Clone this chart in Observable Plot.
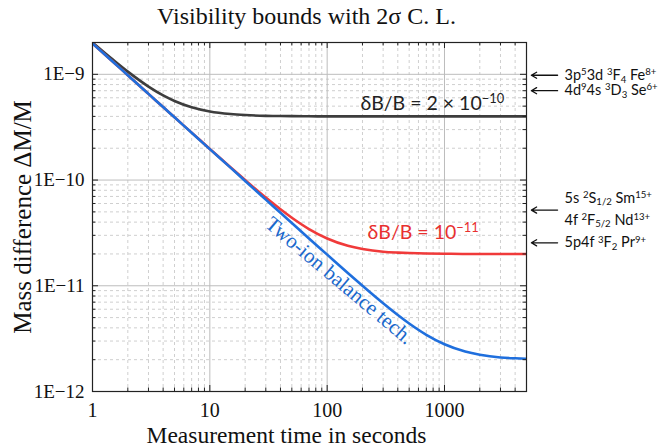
<!DOCTYPE html>
<html>
<head>
<meta charset="utf-8">
<script src="https://cdn.jsdelivr.net/npm/d3@7"></script>
<script src="https://cdn.jsdelivr.net/npm/@observablehq/plot@0.6"></script>
<style>
  html, body { margin: 0; padding: 0; background: #fff; }
</style>
</head>
<body>
<div id="chart"></div>
<script>
// ---- data ----
const times = [1, 1.5, 2, 3, 4, 5, 7, 10, 15, 20, 30, 40, 50, 70, 100, 150, 200, 300, 400, 500, 700, 1000, 1500, 2000, 3000, 4000, 5000];
const twoIonBalance = [1.96e-9, 1.31e-9, 9.8e-10, 6.53e-10, 4.9e-10, 3.92e-10, 2.8e-10, 1.96e-10, 1.31e-10, 9.8e-11, 6.53e-11, 4.9e-11, 3.92e-11, 2.8e-11, 1.97e-11, 1.32e-11, 1.0e-11, 6.83e-12, 5.29e-12, 4.4e-12, 3.44e-12, 2.8e-12, 2.39e-12, 2.23e-12, 2.1e-12, 2.06e-12, 2.04e-12];
const fieldStab1e11 = [1.96e-9, 1.31e-9, 9.8e-10, 6.53e-10, 4.9e-10, 3.92e-10, 2.81e-10, 1.97e-10, 1.32e-10, 1.0e-10, 6.83e-11, 5.29e-11, 4.4e-11, 3.44e-11, 2.8e-11, 2.39e-11, 2.23e-11, 2.1e-11, 2.06e-11, 2.04e-11, 2.02e-11, 2.01e-11, 2.0e-11, 2.0e-11, 2.0e-11, 2.0e-11, 2.0e-11];
const fieldStab2e10 = [2.0e-9, 1.37e-9, 1.06e-9, 7.66e-10, 6.32e-10, 5.6e-10, 4.88e-10, 4.45e-10, 4.21e-10, 4.12e-10, 4.05e-10, 4.03e-10, 4.02e-10, 4.01e-10, 4.0e-10, 4.0e-10, 4.0e-10, 4.0e-10, 4.0e-10, 4.0e-10, 4.0e-10, 4.0e-10, 4.0e-10, 4.0e-10, 4.0e-10, 4.0e-10, 4.0e-10];

const xTickValues = [1, 10, 100, 1000];
const xTickLabels = ["1", "10", "100", "1000"];
const yTickValues = [1e-12, 1e-11, 1e-10, 1e-9];
const yTickLabels = ["1E\u221212", "1E\u221211", "1E\u221210", "1E\u22129"];

const ionLevels = [9.8e-10, 7.0e-10, 5.2e-11, 2.55e-11];
const ionLabels = ["3p^{5}3d ^{3}F_{4} Fe^{8+}", "4d^{9}4s ^{3}D_{3} Se^{6+}", "5s ^{2}S_{1/2} Sm^{15+}", "4f ^{2}F_{5/2} Nd^{13+}", "5p4f ^{3}F_{2} Pr^{9+}"];
const ionLabelLevel = [9.8e-10, 7.0e-10, 5.2e-11, 5.2e-11, 2.55e-11];

const title = "Visibility bounds with 2\u03c3 C. L.";
const xLabel = "Measurement time in seconds";
const yLabel = "Mass difference \u0394M/M";
const blackLabel = "\u03b4B/B = 2 \u00d7 10^{\u221210}";
const redLabel = "\u03b4B/B = 10^{\u221211}";
const blueLabel = "Two-ion balance tech.";

// ---- layout ----
const W = 667, H = 447;
const mL = 92, mR = 141, mT = 42, mB = 56;
const frameW = W - mL - mR, frameH = H - mT - mB;
const xMax = 5000, yMin = 1e-12, yMax = 2e-9;

const xMinor = [];
for (const dec of [1, 10, 100, 1000]) for (let k = 2; k <= 9; k++) if (k * dec <= xMax) xMinor.push(k * dec);
const yMinor = [];
for (const dec of [1e-12, 1e-11, 1e-10, 1e-9]) for (let k = 2; k <= 9; k++) if (k * dec <= yMax * 1.0001) yMinor.push(k * dec);

const rows = times.map((t, i) => ({t, blue: twoIonBalance[i], red: fieldStab1e11[i], black: fieldStab2e10[i]}));

const serif = "'Liberation Serif', 'DejaVu Serif', serif";
const sans = "Lato, 'Open Sans', 'Noto Sans', sans-serif";
const BLUE = "#1f6fdd", RED = "#f03a3a", DARK = "#3d3d3d";
const majLen = 6, minLen = 3.5;

const chart = Plot.plot({
  width: W, height: H,
  marginLeft: mL, marginRight: mR, marginTop: mT, marginBottom: mB,
  style: {background: "#fff", overflow: "visible"},
  x: {type: "log", domain: [1, xMax], axis: null},
  y: {type: "log", domain: [yMin, yMax], axis: null},
  marks: [
    // minor grid
    Plot.ruleX(xMinor, {x: d => d, stroke: "#cfcfcf", strokeDasharray: "3,3"}),
    Plot.ruleY(yMinor, {y: d => d, stroke: "#cfcfcf", strokeDasharray: "3,3"}),
    // major grid
    Plot.ruleX(xTickValues, {x: d => d, stroke: "#bdbdbd"}),
    Plot.ruleY(yTickValues, {y: d => d, stroke: "#bdbdbd"}),
    // curves
    Plot.line(rows, {x: "t", y: "black", stroke: DARK, strokeWidth: 2.6, curve: "monotone-x", clip: true}),
    Plot.line(rows, {x: "t", y: "red", stroke: RED, strokeWidth: 2.6, curve: "monotone-x", clip: true}),
    Plot.line(rows, {x: "t", y: "blue", stroke: BLUE, strokeWidth: 2.6, curve: "monotone-x", clip: true}),
    // ticks (inside, all four sides)
    Plot.ruleX(xTickValues, {x: d => d, insetTop: frameH - majLen, stroke: "#222"}),
    Plot.ruleX(xTickValues, {x: d => d, insetBottom: frameH - majLen, stroke: "#222"}),
    Plot.ruleX(xMinor, {x: d => d, insetTop: frameH - minLen, stroke: "#222"}),
    Plot.ruleX(xMinor, {x: d => d, insetBottom: frameH - minLen, stroke: "#222"}),
    Plot.ruleY(yTickValues, {y: d => d, insetRight: frameW - majLen, stroke: "#222"}),
    Plot.ruleY(yTickValues, {y: d => d, insetLeft: frameW - majLen, stroke: "#222"}),
    Plot.ruleY(yMinor, {y: d => d, insetRight: frameW - minLen, stroke: "#222"}),
    Plot.ruleY(yMinor, {y: d => d, insetLeft: frameW - minLen, stroke: "#222"}),
    Plot.frame({stroke: "#222", strokeWidth: 1.2}),
    // tick labels
    Plot.text(xTickValues, {x: d => d, text: (d, i) => xTickLabels[i], frameAnchor: "bottom", lineAnchor: "middle", dy: 19, fontSize: 20, fontFamily: serif, fill: "#111"}),
    Plot.text(yTickValues, {y: d => d, text: (d, i) => yTickLabels[i], frameAnchor: "left", lineAnchor: "middle", dx: -8, textAnchor: "end", fontSize: 19, fontFamily: serif, fill: "#111"}),
    // axis titles and title
    Plot.text([xLabel], {text: d => d, frameAnchor: "bottom", lineAnchor: "middle", textAnchor: "middle", dx: -23, dy: 44, fontSize: 23.5, fontFamily: serif, fill: "#111"}),
    Plot.text([yLabel], {text: d => d, frameAnchor: "left", lineAnchor: "middle", textAnchor: "middle", dx: -70, rotate: -90, fontSize: 25, fontFamily: serif, fill: "#111"}),
    Plot.text([title], {text: d => d, frameAnchor: "top", lineAnchor: "middle", textAnchor: "middle", dx: -3, dy: -26, fontSize: 24, fontFamily: serif, fill: "#111"}),
    // curve annotations
    Plot.text([blackLabel], {x: () => 192, y: () => 5.3e-10, text: d => d, textAnchor: "start", fontSize: 19.5, fontFamily: sans, fill: "#222", className: "rich"}),
    Plot.text([redLabel], {x: () => 221, y: () => 3.18e-11, text: d => d, textAnchor: "start", fontSize: 19.5, fontFamily: sans, fill: "#e8302f", className: "rich"}),
    Plot.text([blueLabel], {x: () => 127, y: () => 1.12e-11, text: d => d, rotate: 40, fontSize: 21, fontFamily: serif, fill: "#1a68cc"}),
    // ion markers on the right
    Plot.arrow(ionLevels, {x1: () => xMax * 1.84, x2: () => xMax * 1.1, y1: d => d, y2: d => d, stroke: "#111", strokeWidth: 1.3, headLength: 7, clip: false}),
    Plot.text(ionLabels, {y: (d, i) => ionLabelLevel[i], text: d => d, frameAnchor: "right", lineAnchor: "middle", dx: 38,
      textAnchor: "start", fontSize: 14.5, fontFamily: sans, fill: "#111", className: "rich"})
  ]
});

document.getElementById("chart").appendChild(chart);

// render ^{..} / _{..} as real super/subscript tspans; stack the two labels sharing one arrow
function richify(svg) {
  const ns = "http://www.w3.org/2000/svg";
  svg.querySelectorAll("g.rich text").forEach(t => {
    const g = t.closest("g");
    const fs = parseFloat(g.getAttribute("font-size")) || 14;
    const s = t.textContent;
    if (s.includes("Sm")) t.setAttribute("transform", (t.getAttribute("transform") || "") + " translate(0,-12)");
    if (s.includes("Nd")) t.setAttribute("transform", (t.getAttribute("transform") || "") + " translate(0,10)");
    const parts = s.split(/(\^\{[^}]*\}|_\{[^}]*\})/).filter(p => p.length);
    while (t.firstChild) t.removeChild(t.firstChild);
    let shift = 0;
    for (const p of parts) {
      let target = 0, txt = p, small = false;
      if (p.startsWith("^{")) { target = -0.34 * fs; txt = p.slice(2, -1); small = true; }
      else if (p.startsWith("_{")) { target = 0.18 * fs; txt = p.slice(2, -1); small = true; }
      const ts = document.createElementNS(ns, "tspan");
      if (target - shift !== 0) ts.setAttribute("dy", (target - shift).toFixed(2));
      shift = target;
      if (small) ts.setAttribute("font-size", (fs * 0.66).toFixed(1));
      ts.textContent = txt;
      t.appendChild(ts);
    }
  });
}
richify(chart);
</script>
</body>
</html>
